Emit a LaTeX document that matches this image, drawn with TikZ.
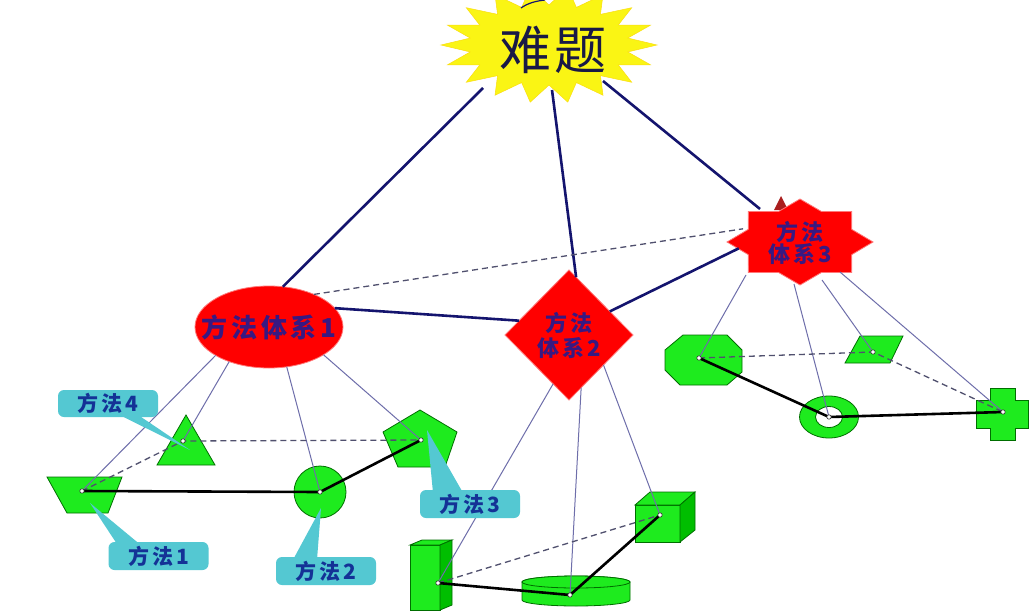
\documentclass[tikz,border=0pt]{standalone}
\usepackage{fontspec}
\newfontfamily\cjkw[LetterSpace=14]{Noto Sans CJK SC}
\newfontfamily\cjkt[LetterSpace=6]{Noto Sans CJK SC}
\usetikzlibrary{shapes.geometric}
\definecolor{navy}{RGB}{20,20,110}
\definecolor{thinc}{RGB}{110,110,170}
\definecolor{dashc}{RGB}{80,80,110}
\definecolor{gfill}{RGB}{30,235,30}
\definecolor{gdraw}{RGB}{0,110,0}
\definecolor{gside}{RGB}{0,190,0}
\definecolor{redf}{RGB}{255,0,0}
\definecolor{redb}{RGB}{255,120,120}
\definecolor{systext}{RGB}{55,25,130}
\definecolor{cyanc}{RGB}{84,200,210}
\definecolor{calltext}{RGB}{20,50,150}
\definecolor{stary}{RGB}{250,245,20}
\definecolor{titlec}{RGB}{25,25,70}
\definecolor{darkred}{RGB}{170,30,30}
\begin{document}
\begin{tikzpicture}[x=1pt,y=-1pt,
  navyline/.style={draw=navy,line width=2.6pt},
  thinline/.style={draw=thinc,line width=1pt},
  dashline/.style={draw=dashc,line width=1.3pt,dash pattern=on 6pt off 4pt},
  blackline/.style={draw=black,line width=2.6pt,line join=round},
  gshape/.style={fill=gfill,draw=gdraw,line width=0.8pt},
  gsideshape/.style={fill=gside,draw=gdraw,line width=0.8pt},
  redshape/.style={fill=redf,draw=redb,line width=0.8pt,inner sep=0pt,outer sep=0pt,align=center,text=systext},
  callout/.style={fill=cyanc,rounded corners=6pt,minimum width=100pt,minimum height=28pt,inner sep=0pt,text=calltext,font=\cjkw\bfseries\fontsize{21}{24}\selectfont},
  dot/.style={fill=white,draw=black!80,line width=0.6pt}
]
\clip (0,0) rectangle (1032,615);
\fill[white] (0,0) rectangle (1032,615);

% title star
\fill[stary,draw=stary!80!orange,line width=0.5pt] (657,45)
  \foreach \i in {1,...,35} { -- ({549+(mod(\i,2)==0 ? 108 : 80)*cos(\i*10)}, {45+(mod(\i,2)==0 ? 58 : 40)*sin(\i*10)}) } -- cycle;
\draw[navy,line width=1.2pt] (521,8) .. controls (528,3) and (536,1) .. (545,0);
\node[text=titlec,font=\cjkt\fontsize{52}{56}\selectfont,inner sep=0pt] (nanti) at (553,50) {难题};

% system 3 star
\fill[darkred] (781,196) -- (788,210) -- (774,210) -- cycle;
\draw[fill=redf,draw=redb,line width=0.8pt] (873,242)
  \foreach \i in {1,...,15} { -- ({800+(mod(\i,2)==0 ? 73 : 56)*cos(\i*22.5)}, {242+(mod(\i,2)==0 ? 43 : 33)*sin(\i*22.5)}) } -- cycle;
\node[ellipse,minimum width=124pt,minimum height=72pt,inner sep=0pt,outer sep=0pt,align=center,text=systext,font=\cjkw\bfseries\fontsize{22}{21}\selectfont] (sys3) at (800,243) {方法\\体系3};

% system 1 and 2
\node[redshape,ellipse,minimum width=148pt,minimum height=82pt,font=\cjkw\bfseries\fontsize{26}{28}\selectfont] (sys1) at (269,327) {\makebox[0pt]{方法体系1}};
\node[redshape,diamond,minimum width=128pt,minimum height=130pt,font=\cjkw\bfseries\fontsize{22}{25}\selectfont] (sys2) at (569,335) {方法\\体系2};

% connectors from title
\coordinate (t1) at (483,88);
\coordinate (t2) at (552,90);
\coordinate (t3) at (603,81);
\coordinate (t3e) at (760,209);
\draw[navyline] (t1) -- (sys1.71);
\draw[navyline] (t2) -- (sys2.83);
\draw[navyline] (t3) -- (t3e);
\draw[navyline] (sys1.16) -- (sys2.164);
\draw[navyline] (sys2.30) -- (sys3.185);
\draw[dashline] (sys1.36) -- (sys3.166);

% group 1 shapes
\draw[gshape] (47,477) -- (122,477) -- (108,513) -- (67,513) -- cycle;
\draw[gshape] (186,415) -- (215,465) -- (157,465) -- cycle;
\draw[gshape] (320,492) circle[radius=26pt];
\draw[gshape] (420,410) -- (457,432) -- (445,467) -- (398,467) -- (383,432) -- cycle;
\coordinate (d1) at (82,491);
\coordinate (d4) at (183,441);
\coordinate (d2) at (320,492);
\coordinate (d3) at (421,440);

% group 2 shapes
\draw[gshape] (410,545) rectangle (440,610);
\draw[gshape] (410,545) -- (422,540) -- (452,540) -- (440,545) -- cycle;
\draw[gsideshape] (440,545) -- (452,540) -- (452,605) -- (440,610) -- cycle;
\draw[gshape] (522,582) -- (522,600) arc[start angle=180,end angle=360,x radius=54pt,y radius=6pt] -- (630,582) arc[start angle=0,end angle=180,x radius=54pt,y radius=6pt] -- cycle;
\draw[gshape] (576,582) ellipse[x radius=54pt,y radius=6pt];
\draw[gshape] (635,505) rectangle (680,542);
\draw[gshape] (635,505) -- (650,492) -- (695,492) -- (680,505) -- cycle;
\draw[gsideshape] (680,505) -- (695,492) -- (695,530) -- (680,542) -- cycle;
\coordinate (d5) at (438,583);
\coordinate (d6) at (570,595);
\coordinate (d7) at (660,515);

% group 3 shapes
\draw[gshape] (683,335) -- (727,335) -- (742,350) -- (742,372) -- (727,385) -- (680,385) -- (665,370) -- (665,350) -- cycle;
\draw[gshape] (860,336) -- (903,336) -- (890,363) -- (845,363) -- cycle;
\draw[gshape,even odd rule] (829,417) ellipse[x radius=29.5pt,y radius=21pt] (829,417) ellipse[x radius=13.5pt,y radius=10.5pt];
\draw[gshape] (990,388) -- (1015,388) -- (1015,400) -- (1028,400) -- (1028,428) -- (1015,428) -- (1015,440) -- (990,440) -- (990,428) -- (976,428) -- (976,400) -- (990,400) -- cycle;
\coordinate (d8) at (699,358);
\coordinate (d9) at (873,352);
\coordinate (d10) at (829,417);
\coordinate (d11) at (1003,412);

% thin lines
\draw[thinline] (sys1.208) -- (d1);
\draw[thinline] (sys1.221) -- (d4);
\draw[thinline] (sys1.294) -- (d2);
\draw[thinline] (sys1.333) -- (d3);
\draw[thinline] (sys2.252) -- (d5);
\draw[thinline] (sys2.283) -- (d6);
\draw[thinline] (sys2.319) -- (d7);
\coordinate (s3a) at (746,275);
\coordinate (s3b) at (794,284);
\coordinate (s3c) at (822,280);
\coordinate (s3d) at (840,272);
\draw[thinline] (s3a) -- (d8);
\draw[thinline] (s3b) -- (d10);
\draw[thinline] (s3c) -- (d9);
\draw[thinline] (s3d) -- (d11);

% dashed and black paths
\draw[dashline] (d1) -- (d4) -- (d3);
\draw[blackline] (d1) -- (d2) -- (d3);
\draw[dashline] (d5) -- (d7);
\draw[blackline] (d5) -- (d6) -- (d7);
\draw[dashline] (d8) -- (d9) -- (d11);
\draw[blackline] (d8) -- (d10) -- (d11);

% callouts
\node[callout,minimum height=27pt] (c4) at (108,403.5) {方法4};
\fill[cyanc] ([xshift=10pt,yshift=3pt]c4.south) -- ([xshift=29pt,yshift=3pt]c4.south) -- (190,450) -- cycle;
\node[callout] (c1) at (158.5,556) {方法1};
\fill[cyanc] ([xshift=-41pt,yshift=-3pt]c1.north) -- ([xshift=-18pt,yshift=-3pt]c1.north) -- (90,503) -- cycle;
\node[callout] (c2) at (326,571) {方法2};
\fill[cyanc] ([xshift=-33pt,yshift=-3pt]c2.north) -- ([xshift=-9pt,yshift=-3pt]c2.north) -- (321,508) -- cycle;
\node[callout] (c3) at (470,504) {方法3};
\fill[cyanc] ([xshift=-37pt,yshift=-3pt]c3.north) -- ([xshift=-7pt,yshift=-3pt]c3.north) -- (427,430) -- cycle;

% dots
\foreach \d in {d1,d2,d3,d4,d5,d6,d7,d8,d9,d10,d11} { \draw[dot] (\d) circle[radius=2.2pt]; }
\end{tikzpicture}
\end{document}
